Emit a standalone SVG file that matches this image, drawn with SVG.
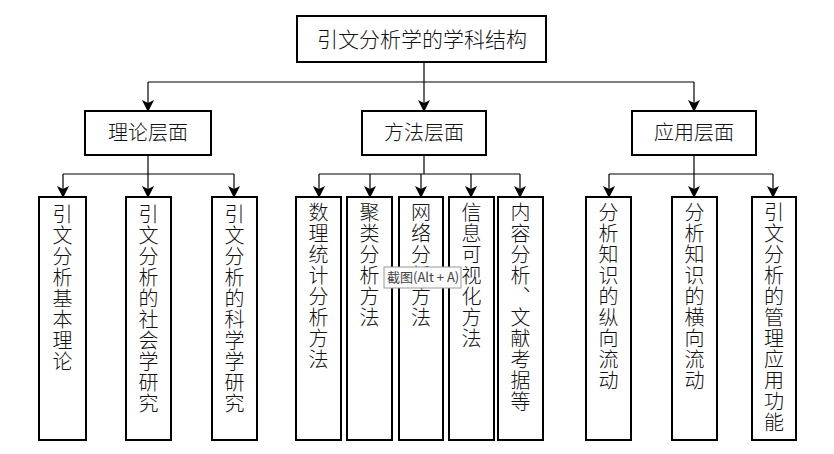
<svg xmlns="http://www.w3.org/2000/svg" width="834" height="454" viewBox="0 0 834 454">
<defs>
<marker id="ah" viewBox="0 0 12 12" refX="11" refY="6" markerWidth="12" markerHeight="12" markerUnits="userSpaceOnUse" orient="auto">
<path d="M0,0 L12,6 L0,12 L3,6 z" fill="#000"/>
</marker>
<style>
.box{fill:#fff;stroke:#000;stroke-width:2}
.t{font-family:"Noto Sans CJK SC","Noto Sans CJK JP",sans-serif;font-size:20px;font-weight:300;fill:#111;text-anchor:middle}
.v{font-family:"Noto Sans CJK SC","Noto Sans CJK JP",sans-serif;font-size:20px;font-weight:300;fill:#111;writing-mode:vertical-rl;text-orientation:upright;letter-spacing:1px;text-anchor:start}
.c{fill:none;stroke:#000;stroke-width:1.2}
.a{marker-end:url(#ah)}
</style>
</defs>
<rect width="834" height="454" fill="#fff"/>
<g id="connectors">
<path class="c" d="M424,62 V82"/>
<path class="c" d="M148,82 H694"/>
<path class="c a" d="M148,82 V111"/>
<path class="c a" d="M424,82 V111"/>
<path class="c a" d="M694,82 V111"/>
<path class="c" d="M148,155 V174 M63,174 H234"/>
<path class="c a" d="M63,174 V197"/>
<path class="c a" d="M148,174 V197"/>
<path class="c a" d="M234,174 V197"/>
<path class="c" d="M424,155 V174 M319,174 H520"/>
<path class="c a" d="M319,174 V197"/>
<path class="c a" d="M370,174 V197"/>
<path class="c a" d="M421,174 V197"/>
<path class="c a" d="M471,174 V197"/>
<path class="c a" d="M520,174 V197"/>
<path class="c" d="M694,155 V174 M609,174 H773"/>
<path class="c a" d="M609,174 V197"/>
<path class="c a" d="M694,174 V197"/>
<path class="c a" d="M773,174 V197"/>
</g>
<g id="root"><rect class="box" x="297" y="16" width="249" height="46"/><text class="t" x="422" y="47" style="font-size:21px">引文分析学的学科结构</text></g>
<g id="theory"><rect class="box" x="85" y="111" width="126" height="44"/><text class="t" x="148" y="140">理论层面</text></g>
<g id="method"><rect class="box" x="362" y="111" width="124" height="44"/><text class="t" x="424" y="140">方法层面</text></g>
<g id="application"><rect class="box" x="632" y="111" width="124" height="44"/><text class="t" x="694" y="140">应用层面</text></g>

<g id="t1"><rect class="box" x="39" y="197" width="47" height="243"/><text class="v" x="62.5" y="204">引文分析基本理论</text></g>
<g id="t2"><rect class="box" x="126" y="197" width="45" height="243"/><text class="v" x="148.5" y="204">引文分析的社会学研究</text></g>
<g id="t3"><rect class="box" x="212" y="197" width="45" height="243"/><text class="v" x="234.5" y="204">引文分析的科学学研究</text></g>

<g id="m1"><rect class="box" x="296" y="197" width="45" height="243"/><text class="v" x="318.5" y="202">数理统计分析方法</text></g>
<g id="m2"><rect class="box" x="347" y="197" width="45" height="243"/><text class="v" x="369.5" y="202">聚类分析方法</text></g>
<g id="m3"><rect class="box" x="399" y="197" width="44" height="243"/><text class="v" x="421" y="202">网络分析方法</text></g>
<g id="m4"><rect class="box" x="449" y="197" width="45" height="243"/><text class="v" x="471.5" y="202">信息可视化方法</text></g>
<g id="m5"><rect class="box" x="498" y="197" width="45" height="243"/><text class="v" x="520.5" y="202">内容分析、文献考据等</text></g>

<g id="a1"><rect class="box" x="586" y="197" width="45" height="243"/><text class="v" x="608.5" y="202">分析知识的纵向流动</text></g>
<g id="a2"><rect class="box" x="672" y="197" width="45" height="243"/><text class="v" x="694.5" y="202">分析知识的横向流动</text></g>
<g id="a3"><rect class="box" x="752" y="197" width="44" height="243"/><text class="v" x="774" y="202">引文分析的管理应用功能</text></g>

<g id="tooltip"><rect x="384" y="267" width="77" height="21" fill="#fbfbfb" stroke="#9a9a9a" stroke-width="1"/><text x="387" y="282" style="font-family:'Noto Sans CJK SC',sans-serif;font-size:13px;fill:#444">截图(Alt + A)</text></g>
</svg>
